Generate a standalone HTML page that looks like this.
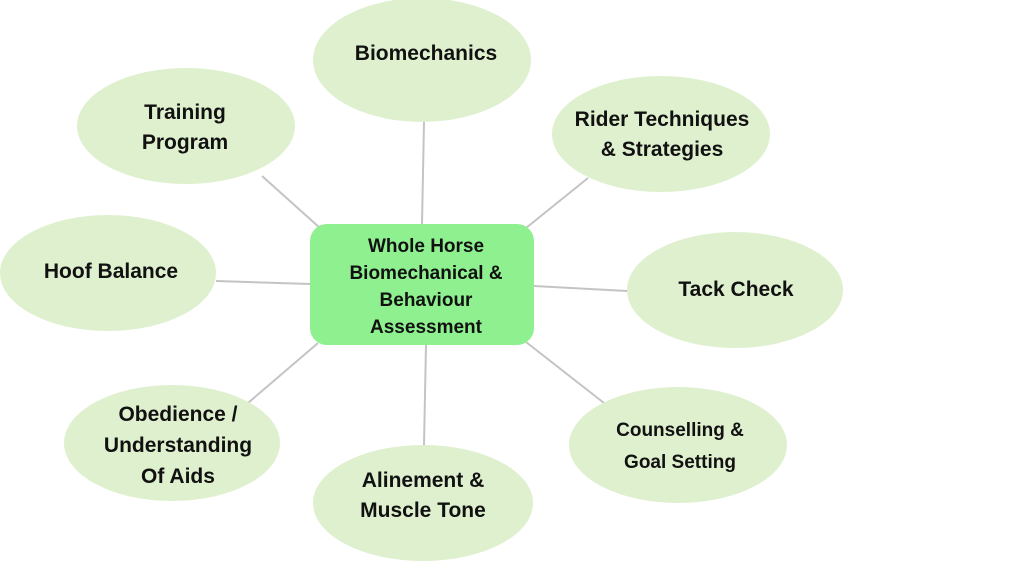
<!DOCTYPE html>
<html><head><style>
html,body{margin:0;padding:0;background:#fff;width:1023px;height:562px;overflow:hidden}
text{font-family:"Liberation Sans",sans-serif;font-weight:bold;fill:#111;text-anchor:middle}
</style></head><body>
<svg width="1023" height="562" viewBox="0 0 1023 562" xmlns="http://www.w3.org/2000/svg">
<g stroke="#c4c4c4" stroke-width="2">
<line x1="422" y1="224" x2="424" y2="122"/>
<line x1="320" y1="228" x2="262" y2="176"/>
<line x1="526" y1="228" x2="588" y2="178"/>
<line x1="310" y1="284" x2="216" y2="281"/>
<line x1="534" y1="286" x2="627" y2="291"/>
<line x1="318" y1="343" x2="248" y2="403"/>
<line x1="426" y1="345" x2="424" y2="445"/>
<line x1="526" y1="342" x2="604" y2="403"/>
</g>
<g fill="#dff0cf">
<ellipse cx="422" cy="60" rx="109" ry="62"/>
<ellipse cx="186" cy="126" rx="109" ry="58"/>
<ellipse cx="661" cy="134" rx="109" ry="58"/>
<ellipse cx="108" cy="273" rx="108" ry="58"/>
<ellipse cx="735" cy="290" rx="108" ry="58"/>
<ellipse cx="172" cy="443" rx="108" ry="58"/>
<ellipse cx="423" cy="503" rx="110" ry="58"/>
<ellipse cx="678" cy="445" rx="109" ry="58"/>
</g>
<rect x="310" y="224" width="224" height="121" rx="17" fill="#8ef08e"/>
<g font-size="21">
<text x="426" y="60">Biomechanics</text>
<text x="185" y="119">Training</text><text x="185" y="149">Program</text>
<text x="662" y="126">Rider Techniques</text><text x="662" y="156">&amp; Strategies</text>
<text x="111" y="278">Hoof Balance</text>
<text x="736" y="296">Tack Check</text>
<text x="178" y="421">Obedience /</text><text x="178" y="452">Understanding</text><text x="178" y="483">Of Aids</text>
<text x="423" y="487">Alinement &amp;</text><text x="423" y="517">Muscle Tone</text>
</g>
<g font-size="19">
<text x="680" y="436">Counselling &amp;</text><text x="680" y="468">Goal Setting</text>
<text x="426" y="252">Whole Horse</text><text x="426" y="279">Biomechanical &amp;</text><text x="426" y="306">Behaviour</text><text x="426" y="333">Assessment</text>
</g>
</svg>
</body></html>
